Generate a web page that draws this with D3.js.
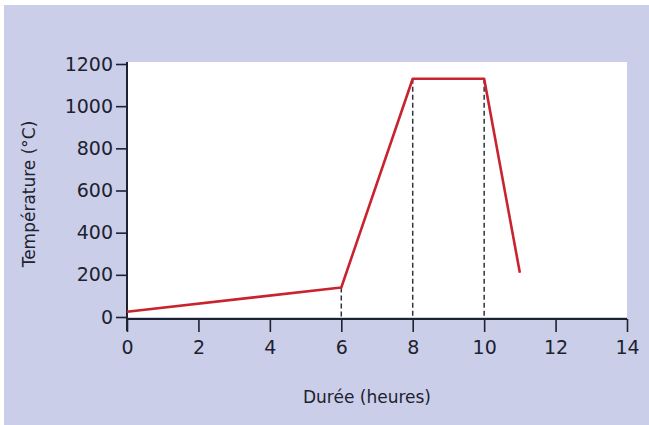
<!DOCTYPE html>
<html>
<head>
<meta charset="utf-8">
<script src="https://cdn.jsdelivr.net/npm/d3@7"></script>
<style>
  body { margin: 0; background: #fff; }
  svg { display: block; }
</style>
</head>
<body>
<div id="chart"></div>
<script>
// durée (heures) / température (°C)
var heures = [0, 6, 8, 10, 11];
var temperatures = [25, 140, 1130, 1130, 210];
var repereHeures = [6, 8, 10];   // pointillés verticaux
var xTicks = [0, 2, 4, 6, 8, 10, 12, 14];
var yTicks = [0, 200, 400, 600, 800, 1000, 1200];

var W = 649, H = 425;
var font = "'DejaVu Sans', sans-serif";
var ink = '#1c2230';

var svg = d3.select('#chart').append('svg')
  .attr('width', W)
  .attr('height', H);

// fond lavande avec un liseré blanc en haut/gauche
svg.append('rect')
  .attr('x', 4).attr('y', 5)
  .attr('width', W - 4).attr('height', H - 5)
  .attr('fill', '#cbcee8');

var x = d3.scaleLinear().domain([0, 14]).range([127, 627]);
var y = d3.scaleLinear().domain([0, 1200]).range([317, 64]);

// zone blanche du graphe
svg.append('rect')
  .attr('x', x(0)).attr('y', 62)
  .attr('width', x(14) - x(0)).attr('height', y(0) - 62)
  .attr('fill', '#ffffff');

// pointillés
var pts = heures.map(function(h, i) { return {h: h, t: temperatures[i]}; });
svg.selectAll('line.repere')
  .data(pts.filter(function(d) { return repereHeures.indexOf(d.h) >= 0; }))
  .enter().append('line')
  .attr('class', 'repere')
  .attr('x1', function(d) { return x(d.h); })
  .attr('x2', function(d) { return x(d.h); })
  .attr('y1', function(d) { return y(d.t); })
  .attr('y2', y(0))
  .attr('stroke', '#2e333d')
  .attr('stroke-width', 1.5)
  .attr('stroke-dasharray', '5,3');

// axes
var xAxis = d3.axisBottom(x).tickValues(xTicks).tickSize(13).tickPadding(9)
  .tickFormat(d3.format('d'));
var gx = svg.append('g').attr('transform', 'translate(0,' + (y(0) + 2) + ')').call(xAxis);
var yAxis = d3.axisLeft(y).tickValues(yTicks).tickSize(11).tickPadding(3)
  .tickFormat(d3.format('d'));
var gy = svg.append('g').attr('transform', 'translate(' + x(0) + ',0)').call(yAxis);

[gx, gy].forEach(function(g) {
  g.attr('font-size', 19).attr('font-family', font);
  g.select('.domain').attr('stroke', ink).attr('stroke-width', 2);
  g.selectAll('.tick line').attr('stroke', ink).attr('stroke-width', 1.6);
  g.selectAll('.tick text').attr('fill', ink);
});
gx.select('.domain').attr('d', 'M' + x(0) + ',0H' + x(14));
gy.select('.domain').attr('d', 'M0,' + (y(1200) - 2) + 'V' + (y(0) + 14));

// courbe
var line = d3.line()
  .x(function(d) { return x(d.h); })
  .y(function(d) { return y(d.t); });
svg.append('path')
  .datum(pts)
  .attr('d', line)
  .attr('fill', 'none')
  .attr('stroke', '#c8232e')
  .attr('stroke-width', 2.6)
  .attr('stroke-linejoin', 'round');

// titres des axes
svg.append('text')
  .attr('x', 367).attr('y', 403)
  .attr('text-anchor', 'middle')
  .attr('fill', ink)
  .style('font-family', font)
  .style('font-size', '17px')
  .text('Durée (heures)');

svg.append('text')
  .attr('transform', 'translate(35,194) rotate(-90)')
  .attr('text-anchor', 'middle')
  .attr('fill', ink)
  .style('font-family', font)
  .style('font-size', '17px')
  .text('Température (°C)');
</script>
</body>
</html>
